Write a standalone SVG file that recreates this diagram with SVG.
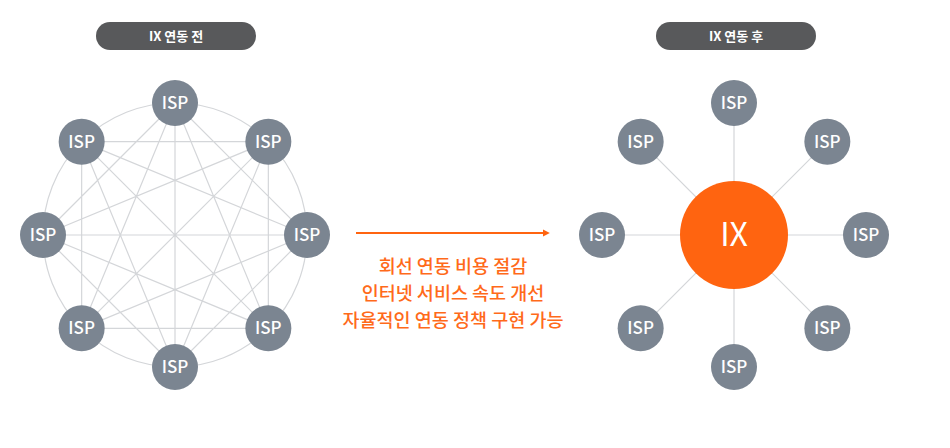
<svg xmlns="http://www.w3.org/2000/svg" width="950" height="448" viewBox="0 0 950 448">
<style>
.bg{fill:#ffffff}
.pill{fill:#58595b}
.pilltxt{fill:#ffffff;font-family:"Noto Sans CJK KR","Noto Sans",sans-serif;font-size:13px;font-weight:bold;text-anchor:middle}
.isp circle{fill:#7b8591}
.isp text{fill:#ffffff;font-family:"Noto Sans CJK KR","Noto Sans",sans-serif;font-size:17px;font-weight:500;text-anchor:middle}
.link{stroke:#d4d6d9;stroke-width:1.2;fill:none}
.note{fill:#ff6a1a;font-family:"Noto Sans CJK KR","Noto Sans",sans-serif;font-size:18.5px;font-weight:500;text-anchor:middle}
</style>
<defs>
<marker id="ah" markerWidth="4" markerHeight="4" refX="1" refY="2" orient="auto" markerUnits="strokeWidth" viewBox="0 0 4 4">
<path d="M0,0.2 L3.4,2 L0,3.8 Z" fill="#ff6410"/>
</marker>
</defs>
<rect class="bg" x="0" y="0" width="950" height="448"/>

<g id="label-before">
<rect class="pill" x="96" y="22" width="160" height="28" rx="14"/>
<text class="pilltxt" x="176" y="41">IX 연동 전</text>
</g>
<g id="label-after">
<rect class="pill" x="656" y="22" width="160" height="28" rx="14"/>
<text class="pilltxt" x="736" y="41">IX 연동 후</text>
</g>

<g id="connectors">
<circle class="link" cx="175" cy="235" r="132"/>
<path class="link" d="M175,103 L307,235 M175,103 L268.34,328.34 M175,103 L175,367 M175,103 L81.66,328.34 M175,103 L43,235
M268.34,141.66 L268.34,328.34 M268.34,141.66 L175,367 M268.34,141.66 L81.66,328.34 M268.34,141.66 L43,235 M268.34,141.66 L81.66,141.66
M307,235 L175,367 M307,235 L81.66,328.34 M307,235 L43,235 M307,235 L81.66,141.66
M268.34,328.34 L81.66,328.34 M268.34,328.34 L43,235 M268.34,328.34 L81.66,141.66
M175,367 L43,235 M175,367 L81.66,141.66
M81.66,328.34 L81.66,141.66"/>
<path class="link" d="M734,235 L734,103 M734,235 L827.34,141.66 M734,235 L866,235 M734,235 L827.34,328.34 M734,235 L734,367 M734,235 L640.66,328.34 M734,235 L602,235 M734,235 L640.66,141.66"/>
<line x1="356" y1="233" x2="545" y2="233" stroke="#ff6410" stroke-width="2" marker-end="url(#ah)"/>
</g>

<g id="isp-l0" class="isp"><circle cx="175" cy="103" r="23"/><text x="175" y="109">ISP</text></g>
<g id="isp-l1" class="isp"><circle cx="268.34" cy="141.66" r="23"/><text x="268.34" y="147.66">ISP</text></g>
<g id="isp-l2" class="isp"><circle cx="307" cy="235" r="23"/><text x="307" y="241">ISP</text></g>
<g id="isp-l3" class="isp"><circle cx="268.34" cy="328.34" r="23"/><text x="268.34" y="334.34">ISP</text></g>
<g id="isp-l4" class="isp"><circle cx="175" cy="367" r="23"/><text x="175" y="373">ISP</text></g>
<g id="isp-l5" class="isp"><circle cx="81.66" cy="328.34" r="23"/><text x="81.66" y="334.34">ISP</text></g>
<g id="isp-l6" class="isp"><circle cx="43" cy="235" r="23"/><text x="43" y="241">ISP</text></g>
<g id="isp-l7" class="isp"><circle cx="81.66" cy="141.66" r="23"/><text x="81.66" y="147.66">ISP</text></g>

<g id="ix">
<circle cx="734" cy="235" r="54" fill="#ff6410"/>
<text x="734" y="246" fill="#ffffff" font-family="Noto Sans CJK KR, Noto Sans, sans-serif" font-size="32" text-anchor="middle">IX</text>
</g>
<g id="isp-r0" class="isp"><circle cx="734" cy="103" r="23"/><text x="734" y="109">ISP</text></g>
<g id="isp-r1" class="isp"><circle cx="827.34" cy="141.66" r="23"/><text x="827.34" y="147.66">ISP</text></g>
<g id="isp-r2" class="isp"><circle cx="866" cy="235" r="23"/><text x="866" y="241">ISP</text></g>
<g id="isp-r3" class="isp"><circle cx="827.34" cy="328.34" r="23"/><text x="827.34" y="334.34">ISP</text></g>
<g id="isp-r4" class="isp"><circle cx="734" cy="367" r="23"/><text x="734" y="373">ISP</text></g>
<g id="isp-r5" class="isp"><circle cx="640.66" cy="328.34" r="23"/><text x="640.66" y="334.34">ISP</text></g>
<g id="isp-r6" class="isp"><circle cx="602" cy="235" r="23"/><text x="602" y="241">ISP</text></g>
<g id="isp-r7" class="isp"><circle cx="640.66" cy="141.66" r="23"/><text x="640.66" y="147.66">ISP</text></g>

<g id="benefits">
<text class="note" x="453" y="273">회선 연동 비용 절감</text>
<text class="note" x="453" y="300">인터넷 서비스 속도 개선</text>
<text class="note" x="453" y="327">자율적인 연동 정책 구현 가능</text>
</g>
</svg>
